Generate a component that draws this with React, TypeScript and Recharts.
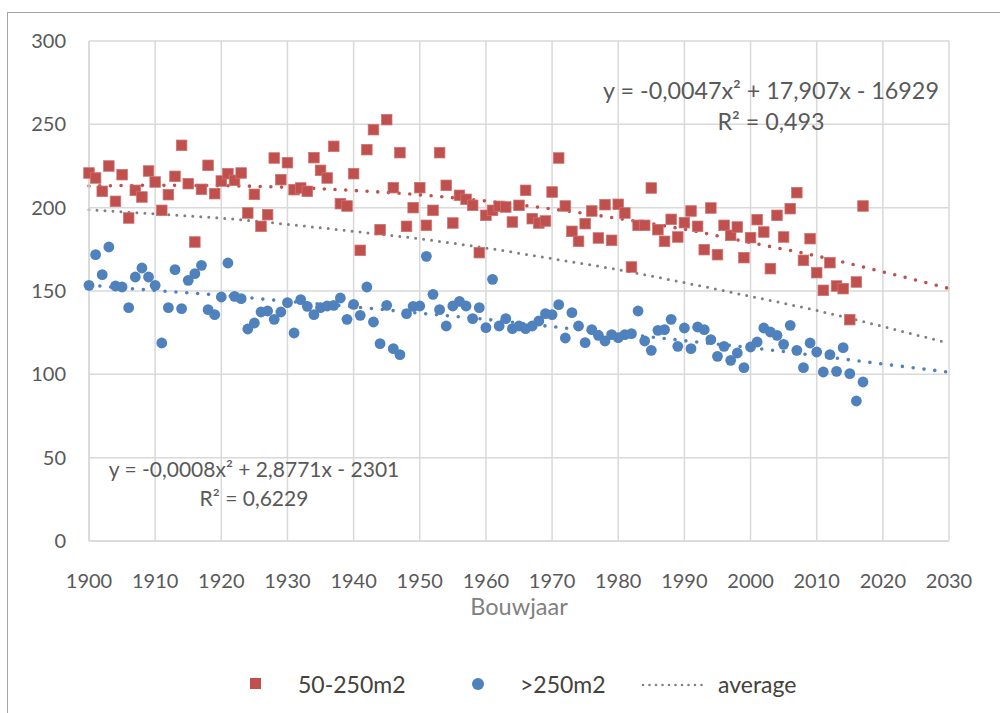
import { ComposedChart, Scatter, Line, XAxis, YAxis, CartesianGrid, Label } from 'recharts'

// building year for every point, same for both series
const years = Array.from({ length: 118 }, (_, i) => 1900 + i)

// average value per building year, 50-250m2
const smallHouses = [
  220.8, 217.8, 209.8, 225, 203.8, 219.8, 193.8, 210.4, 206.4, 222,
  215.4, 198.4, 207.8, 218.8, 237.4, 214.4, 179.4, 211, 225.4, 208.4,
  216, 220.4, 216.4, 220.8, 196.8, 208, 188.8, 195.8, 229.8, 216.8,
  227, 210.8, 211.8, 209.8, 230, 222.4, 217.8, 236.8, 202.4, 201,
  220.4, 174.4, 234.8, 246.8, 186.8, 252.8, 212, 233, 188.8, 200,
  212, 189.4, 198.4, 233, 213.4, 190.8, 207.4, 205, 201.4, 173,
  195.4, 198.4, 200.8, 200.4, 191.4, 201.4, 210.4, 193.4, 190.8, 192,
  209.4, 229.8, 201, 185.8, 179.8, 190.4, 198, 181.8, 201.8, 180.4,
  202, 196.8, 164.4, 189.4, 189.4, 211.8, 186.8, 179.8, 193, 182.4,
  191, 198, 188.8, 174.8, 199.8, 171.8, 189.4, 183.4, 188.4, 170,
  182, 192.8, 185.4, 163.4, 195.4, 182.4, 199.4, 209, 168.4, 181.4,
  161, 150.4, 167, 153, 151.4, 132.8, 155.4, 201,
]

// >250m2
const largeHouses = [
  153.4, 171.8, 159.8, 176.4, 153, 152.4, 140, 158.4, 163.8, 158.4,
  153.4, 118.8, 140, 162.8, 139.4, 156.4, 160.4, 165.4, 138.8, 135.8,
  146.4, 166.8, 146.8, 145.4, 127.2, 130.8, 137.4, 138, 133, 137.4,
  143, 124.8, 144.8, 140.8, 135.8, 140, 141, 141.4, 145.8, 133,
  142, 135.4, 152.4, 131.4, 118.4, 141.4, 115.4, 111.8, 136.4, 140.8,
  141, 170.8, 148, 138.8, 129, 141, 143.8, 141, 133.4, 140,
  128, 157, 129, 133.4, 127.4, 129, 127.4, 129, 132, 136.4,
  135.8, 141.8, 121.8, 137, 129, 119, 126.8, 123.4, 120, 123.8,
  122, 123.8, 124.4, 138, 120, 114.4, 126.4, 126.8, 133, 116.8,
  127.8, 115.4, 128.4, 126.8, 120.8, 110.8, 116.8, 108.4, 112.8, 104,
  116.4, 119.4, 127.8, 125.4, 123.4, 118, 129.4, 114.4, 104, 118.8,
  113.4, 101.4, 111.8, 101.8, 116, 100.4, 84, 95.4,
]

// trend lines, every 10 years
const trendYears = [1900, 1910, 1920, 1930, 1940, 1950, 1960, 1970, 1980, 1990, 2000, 2010, 2020, 2030]
const smallTrend = [213, 213.4, 213.2, 212.2, 210.3, 207.7, 204, 199.2, 193.5, 187, 179, 171, 161.5, 151.5]
const largeTrend = [153.5, 150.3, 147.4, 143.8, 140.5, 136.7, 133, 128.6, 124.5, 120.2, 116, 111.2, 106.2, 101.3]
const averageTrend = [198.8, 196.2, 193.7, 190, 185.8, 181.3, 175.8, 169.4, 162.8, 155, 146.8, 138.3, 128.7, 118.6]

const xTicks = [1900, 1910, 1920, 1930, 1940, 1950, 1960, 1970, 1980, 1990, 2000, 2010, 2020, 2030]
const yTicks = [0, 50, 100, 150, 200, 250, 300]

const RED = '#C0504D'
const BLUE = '#4F81BD'
const GREY = '#808080'
const FONT = 'Lato, sans-serif'

const smallData = years.map((year, i) => ({ year, v: smallHouses[i] }))
const largeData = years.map((year, i) => ({ year, v: largeHouses[i] }))
const smallTrendData = trendYears.map((year, i) => ({ year, v: smallTrend[i] }))
const largeTrendData = trendYears.map((year, i) => ({ year, v: largeTrend[i] }))
const averageData = trendYears.map((year, i) => ({ year, v: averageTrend[i] }))

const SquareMark = (p: any) => (
  <rect x={p.cx - 5.3} y={p.cy - 5.3} width={10.6} height={10.6} fill={RED} stroke="#CF7472" strokeWidth={0.75} />
)
const DotMark = (p: any) => <circle cx={p.cx} cy={p.cy} r={5.4} fill={BLUE} />

const tickStyle = { fill: '#595959', fontSize: 20, fontFamily: FONT }

export default function App() {
  return (
    <div style={{ position: 'absolute', left: 0, top: 0, width: 1000, height: 713, overflow: 'hidden', background: '#fff', fontFamily: FONT }}>
      <div style={{ position: 'absolute', left: 7, top: 12, width: 1010, height: 720, border: '1px solid #a6a6a6' }} />
      <ComposedChart width={1000} height={713} margin={{ top: 41, right: 51, left: 0, bottom: 102 }}>
        <CartesianGrid stroke="#d9d9d9" strokeWidth={1.5} />
        <XAxis
          type="number"
          dataKey="year"
          domain={[1900, 2030]}
          ticks={xTicks}
          height={70}
          tick={tickStyle}
          tickLine={false}
          tickSize={6}
          tickMargin={27}
          axisLine={{ stroke: '#d9d9d9', strokeWidth: 1.5 }}
        >
          <Label value="Bouwjaar" position="insideTop" offset={57} fill="#808080" fontSize={23.5} fontFamily={FONT} />
        </XAxis>
        <YAxis
          type="number"
          dataKey="v"
          domain={[0, 300]}
          ticks={yTicks}
          width={89}
          tick={tickStyle}
          tickLine={false}
          tickSize={6}
          tickMargin={17}
          axisLine={{ stroke: '#d9d9d9', strokeWidth: 1.5 }}
        />
        <Scatter name="50-250m2" data={smallData} dataKey="v" shape={SquareMark} isAnimationActive={false} />
        <Scatter name=">250m2" data={largeData} dataKey="v" shape={DotMark} isAnimationActive={false} />
        <Line
          data={smallTrendData}
          dataKey="v"
          type="monotone"
          stroke={RED}
          strokeWidth={3.6}
          strokeDasharray="0 10.7"
          strokeLinecap="round"
          dot={false}
          activeDot={false}
          isAnimationActive={false}
        />
        <Line
          data={largeTrendData}
          dataKey="v"
          type="monotone"
          stroke={BLUE}
          strokeWidth={3.6}
          strokeDasharray="0 10.9"
          strokeLinecap="round"
          dot={false}
          activeDot={false}
          isAnimationActive={false}
        />
        <Line
          data={averageData}
          dataKey="v"
          type="monotone"
          stroke={GREY}
          strokeWidth={3}
          strokeDasharray="0 8"
          strokeLinecap="round"
          dot={false}
          activeDot={false}
          isAnimationActive={false}
        />
      </ComposedChart>

      {/* trendline labels */}
      <div style={{ position: 'absolute', left: 571, top: 75, width: 400, textAlign: 'center', color: '#595959', fontSize: 23.3, lineHeight: '31px' }}>
        <div>y = -0,0047x² + 17,907x - 16929</div>
        <div>R² = 0,493</div>
      </div>
      <div style={{ position: 'absolute', left: 54, top: 454, width: 400, textAlign: 'center', color: '#595959', fontSize: 21, lineHeight: '29px' }}>
        <div>y = -0,0008x² + 2,8771x - 2301</div>
        <div>R² = 0,6229</div>
      </div>

      {/* legend */}
      <div style={{ position: 'absolute', left: 0, top: 669, width: 1000, height: 30, color: '#44423a', fontSize: 23, lineHeight: '30px' }}>
        <div style={{ position: 'absolute', left: 250, top: 9, width: 11, height: 11, background: RED }} />
        <span style={{ position: 'absolute', left: 298 }}>50-250m2</span>
        <div style={{ position: 'absolute', left: 472, top: 9, width: 12, height: 12, borderRadius: 6, background: BLUE }} />
        <span style={{ position: 'absolute', left: 520 }}>&gt;250m2</span>
        <svg style={{ position: 'absolute', left: 640, top: 13 }} width={64} height={6}>
          <line x1={3} y1={3} x2={62} y2={3} stroke={GREY} strokeWidth={2.6} strokeDasharray="0 6.5" strokeLinecap="round" />
        </svg>
        <span style={{ position: 'absolute', left: 718 }}>average</span>
      </div>
    </div>
  )
}
